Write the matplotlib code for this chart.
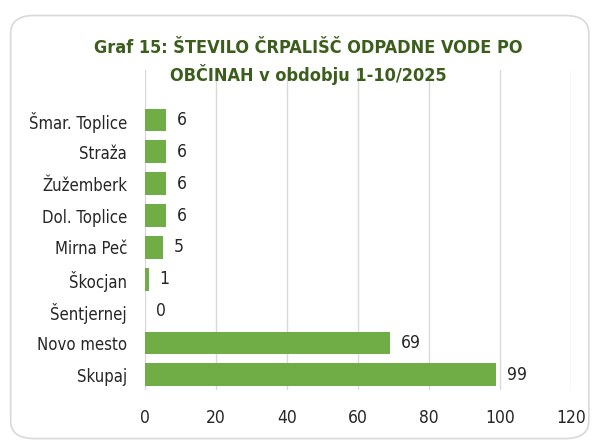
import matplotlib
matplotlib.use('Agg')
import matplotlib.pyplot as plt
from matplotlib.patches import FancyBboxPatch

# data, listed top to bottom as in the chart
obcine = ['Šmar. Toplice', 'Straža', 'Žužemberk', 'Dol. Toplice', 'Mirna Peč',
          'Škocjan', 'Šentjernej', 'Novo mesto', 'Skupaj']
crpalisca = [6, 6, 6, 6, 5, 1, 0, 69, 99]
x_ticks = [0, 20, 40, 60, 80, 100, 120]

plt.rcParams['font.family'] = ['DejaVu Sans']
plt.rcParams['font.stretch'] = 'condensed'

fig = plt.figure(figsize=(5.93, 4.43), dpi=100)

# rounded frame around the whole chart
frame = FancyBboxPatch((0.018, 0.01), 0.975, 0.955, boxstyle='round,pad=0,rounding_size=0.04',
                       transform=fig.transFigure, facecolor='none', edgecolor='#d9d9d9',
                       linewidth=1.2, zorder=-1)
fig.patches.append(frame)

ax = fig.add_axes([0.2445, 0.12, 0.7185, 0.722])

ypos = list(range(len(obcine)))[::-1]
ax.barh(ypos, crpalisca, height=0.72, color='#70ad47', zorder=3)
for y, v in zip(ypos, crpalisca):
    ax.text(v + 3, y, str(v), va='center', ha='left', fontsize=12.5, color='#262626')

ax.set_xlim(0, 120)
ax.set_ylim(-0.47, 9.57)
ax.set_xticks(x_ticks)
ax.set_yticks(ypos)
ax.set_yticklabels(obcine)
ax.tick_params(axis='both', length=0, labelsize=12.5, colors='#262626')
ax.tick_params(axis='y', labelsize=12)
ax.tick_params(axis='x', pad=14)
ax.tick_params(axis='y', pad=13)
ax.grid(axis='x', color='#d9d9d9', linewidth=1, zorder=0)
for s in ax.spines.values():
    s.set_visible(False)
ax.patch.set_alpha(0)

fig.text(0.52, 0.86, 'Graf 15: ŠTEVILO ČRPALIŠČ ODPADNE VODE PO\nOBČINAH v obdobju 1-10/2025',
         ha='center', va='center', fontsize=13, color='#3b5e1c', fontweight='bold',
         linespacing=1.45, zorder=5)

plt.savefig('out.png', dpi=100)
